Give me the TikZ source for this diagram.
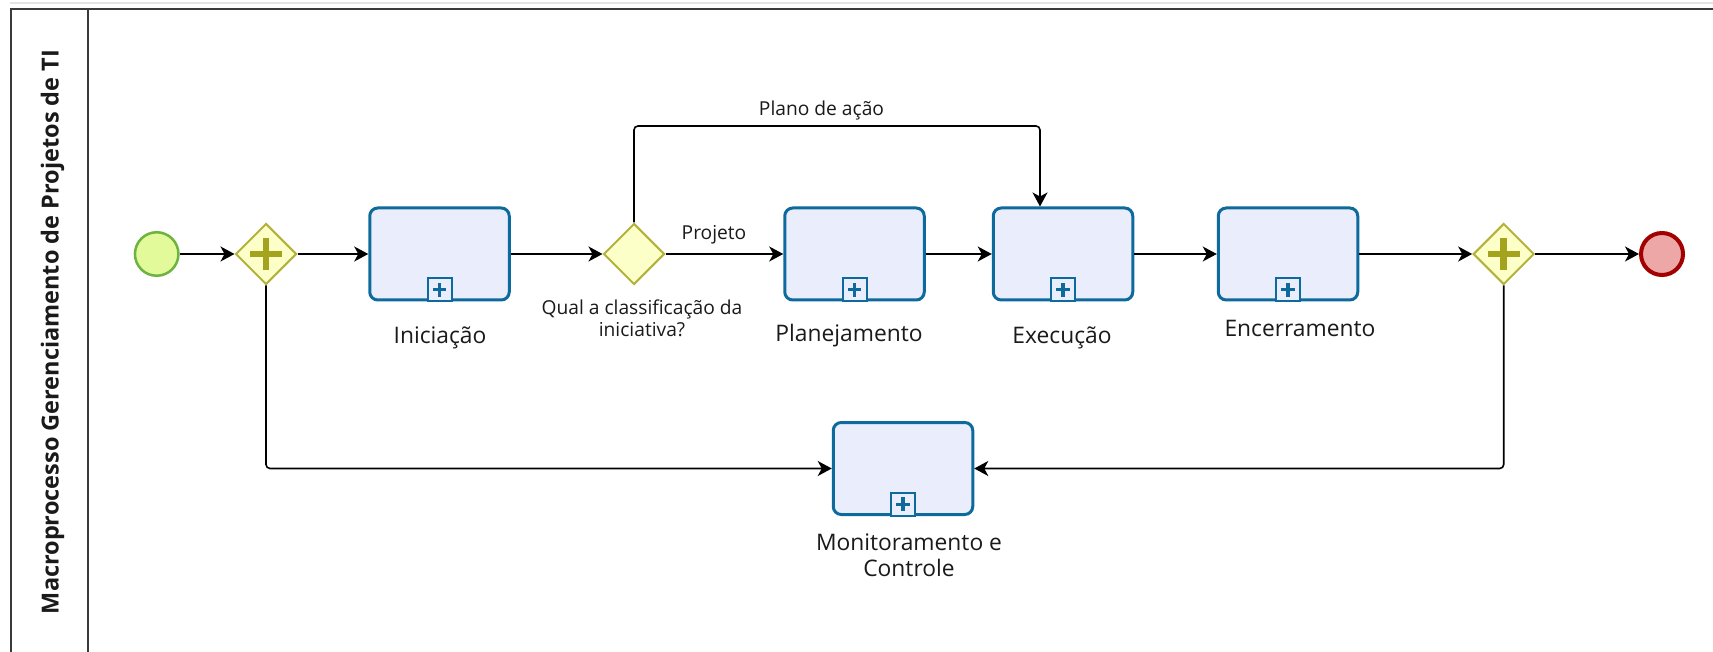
\documentclass[tikz,border=0pt]{standalone}
\usepackage{fontspec}
\setmainfont{Open Sans}
\usetikzlibrary{arrows.meta,shapes.geometric}

\definecolor{taskfill}{HTML}{EAEEFC}
\definecolor{taskline}{HTML}{0E6A9C}
\definecolor{gwfill}{HTML}{FDFFC8}
\definecolor{gwline}{HTML}{B3B23A}
\definecolor{gwcross}{HTML}{A3A31E}
\definecolor{startfill}{HTML}{E3FA9A}
\definecolor{startline}{HTML}{6CB33F}
\definecolor{endfill}{HTML}{EDA7A7}
\definecolor{endline}{HTML}{A30000}
\definecolor{poolline}{HTML}{3A3A3A}
\definecolor{txt}{HTML}{1A1A1A}

\tikzset{
  task/.style={draw=taskline, fill=taskfill, line width=3pt, rounded corners=8pt,
    minimum width=139.5pt, minimum height=92pt, inner sep=0pt},
  gateway/.style={diamond, draw=gwline, fill=gwfill, line width=2pt, aspect=1,
    minimum width=61pt, minimum height=61pt, inner sep=0pt},
  startev/.style={circle, draw=startline, fill=startfill, line width=2.5pt,
    minimum size=43.5pt, inner sep=0pt},
  endev/.style={circle, draw=endline, fill=endfill, line width=4pt,
    minimum size=42pt, inner sep=0pt},
  flow/.style={draw=black, line width=1.6pt, rounded corners=4pt,
    -{Stealth[length=14pt, width=15pt, inset=4pt]}},
  biglabel/.style={text=txt, inner sep=0pt, anchor=base, align=center,
    font=\fontsize{22.8}{26.7}\selectfont},
  smalllabel/.style={text=txt, inner sep=0pt, anchor=base, align=center,
    font=\fontsize{19.2}{22.7}\selectfont},
  pool/.style={draw=poolline, line width=2pt},
  pics/subproc/.style={code={
    \draw[fill=taskfill, draw=taskline, line width=2pt] (-12,0) rectangle (12,-23.5);
    \fill[taskline] (-6.8,-13.5) rectangle (6.8,-10);
    \fill[taskline] (-1.75,-18.6) rectangle (1.75,-4.9);
  }},
  pics/gwplus/.style={code={
    \fill[gwcross] (-16,-3.4) rectangle (16,3.4);
    \fill[gwcross] (-3.4,-16) rectangle (3.4,16);
  }},
}

\begin{document}
\begin{tikzpicture}[x=1pt, y=-1pt]
\useasboundingbox (0,0) rectangle (1713,652);
\fill[white] (0,0) rectangle (1713,652);

% pool frame and lane header
\draw[gray!22, line width=1.2pt] (10,3) -- (1713,3);
\draw[pool] (10.7,652) -- (10.7,8.8) -- (1713,8.8);
\draw[pool] (88.3,8.8) -- (88.3,652);
\node[rotate=90, anchor=base, text=txt, inner sep=0pt,
  font=\bfseries\fontsize{23.5}{28}\selectfont] (title) at (58.5,332)
  {Macroprocesso Gerenciamento de Projetos de TI};

% flow objects
\node[startev] (start) at (156.7,254) {};
\node[gateway] (g1) at (266,254) {};
\pic at (g1) {gwplus};
\node[task] (ini) at (439.5,254) {};
\pic at (ini.south) {subproc};
\node[gateway] (dec) at (634,254) {};
\node[task] (plan) at (854.5,254) {};
\pic at (plan.south) {subproc};
\node[task] (exec) at (1063,254) {};
\pic at (exec.south) {subproc};
\node[task] (enc) at (1288,254) {};
\pic at (enc.south) {subproc};
\node[gateway] (g2) at (1503.7,254) {};
\pic at (g2) {gwplus};
\node[endev] (end) at (1662,254) {};
\node[task] (mon) at (903,468.5) {};
\pic at (mon.south) {subproc};

% labels (multi-line labels are anchored on their last baseline)
\node[biglabel] (iniL) at (440,343.3) {Iniciação};
\node[biglabel] (planL) at (849,341.7) {Planejamento};
\node[biglabel] (execL) at (1062,343.3) {Execução};
\node[biglabel] (encL) at (1300,336.7) {Encerramento};
\node[biglabel] (monL) at (909,576.7) {Monitoramento e\\Controle};
\node[smalllabel] (decL) at (642,336.7) {Qual a classificação da\\iniciativa?};
\node[smalllabel] (projL) at (714,240) {Projeto};
\node[smalllabel] (planoL) at (821.5,116) {Plano de ação};

% sequence flows
\coordinate (pa) at (1040,126);
\draw[flow] (start) -- (g1);
\draw[flow] (g1) -- (ini);
\draw[flow] (ini) -- (dec);
\draw[flow] (dec) -- (plan);
\draw[flow] (plan) -- (exec);
\draw[flow] (exec) -- (enc);
\draw[flow] (enc) -- (g2);
\draw[flow] (g2) -- (end);
\draw[flow] (dec.north) |- (pa) -- (pa |- exec.north);
\draw[flow] (g1.south) |- (mon.west);
\draw[flow] (g2.south) |- (mon.east);
\end{tikzpicture}
\end{document}
